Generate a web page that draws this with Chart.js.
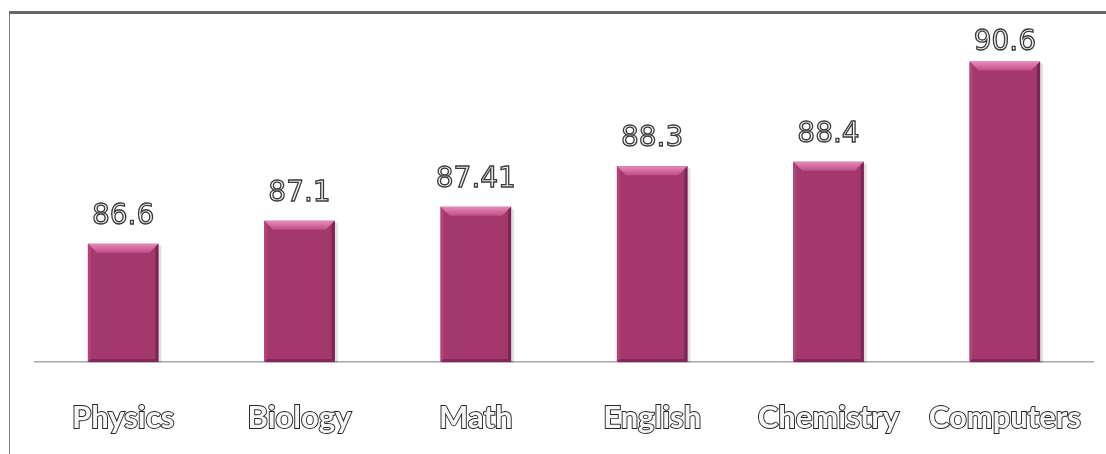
<!DOCTYPE html>
<html>
<head>
<meta charset="utf-8">
<script src="https://cdn.jsdelivr.net/npm/chart.js@4/dist/chart.umd.min.js"></script>
<style>
  html, body { margin: 0; padding: 0; background: #fff; }
  #wrap { position: relative; width: 1106px; height: 454px; }
  #frame {
    position: absolute; left: 9px; top: 11px; right: 0; bottom: 0;
    border-top: 3px solid #676767; border-left: 1px solid #7a7a7a;
    pointer-events: none;
  }
</style>
</head>
<body>
<div id="wrap">
  <canvas id="chart" width="1106" height="454"></canvas>
  <div id="frame"></div>
</div>
<script>
// ===== DATA =====
const subjects = ['Physics', 'Biology', 'Math', 'English', 'Chemistry', 'Computers'];
const scores = [86.6, 87.1, 87.41, 88.3, 88.4, 90.6];
const scoreLabels = ['86.6', '87.1', '87.41', '88.3', '88.4', '90.6'];
const axisMin = 84;
const axisMax = 91.6;

// ===== BEVEL + VALUE LABELS =====
const bevelPlugin = {
  id: 'bevel',
  afterDatasetsDraw(chart) {
    const ctx = chart.ctx;
    const meta = chart.getDatasetMeta(0);
    meta.data.forEach((bar, i) => {
      const p = bar.getProps(['x', 'y', 'base', 'width'], true);
      const l = p.x - p.width / 2, r = p.x + p.width / 2;
      const t = p.y, b = p.base;
      const bv = 9, sv = 3;

      ctx.save();
      // top bevel
      const g = ctx.createLinearGradient(0, t, 0, t + bv);
      g.addColorStop(0, '#e58bb8');
      g.addColorStop(1, '#c04d86');
      ctx.fillStyle = g;
      ctx.beginPath();
      ctx.moveTo(l, t); ctx.lineTo(r, t);
      ctx.lineTo(r - bv, t + bv); ctx.lineTo(l + bv, t + bv);
      ctx.closePath(); ctx.fill();
      // left edge
      ctx.fillStyle = '#b2427a';
      ctx.beginPath();
      ctx.moveTo(l, t); ctx.lineTo(l + sv, t + sv);
      ctx.lineTo(l + sv, b - sv); ctx.lineTo(l, b);
      ctx.closePath(); ctx.fill();
      // right edge
      ctx.fillStyle = '#7c2452';
      ctx.beginPath();
      ctx.moveTo(r, t); ctx.lineTo(r - sv, t + sv);
      ctx.lineTo(r - sv, b - sv); ctx.lineTo(r, b);
      ctx.closePath(); ctx.fill();
      // bottom edge
      ctx.fillStyle = '#84285a';
      ctx.beginPath();
      ctx.moveTo(l, b); ctx.lineTo(l + sv, b - sv);
      ctx.lineTo(r - sv, b - sv); ctx.lineTo(r, b);
      ctx.closePath(); ctx.fill();

      // value label (kept inside the frame like the original)
      const ly = Math.max(t - 20, 50);
      ctx.font = '28px "DejaVu Sans"';
      ctx.textAlign = 'center';
      ctx.textBaseline = 'alphabetic';
      ctx.lineWidth = 1.3;
      ctx.fillStyle = '#f4f4f4';
      ctx.strokeStyle = '#3a3a3a';
      ctx.fillText(scoreLabels[i], p.x, ly);
      ctx.strokeText(scoreLabels[i], p.x, ly);
      ctx.restore();
    });
  }
};

// ===== SHADOW UNDER BARS =====
const shadowPlugin = {
  id: 'barShadow',
  beforeDatasetsDraw(chart) {
    const ctx = chart.ctx;
    chart.getDatasetMeta(0).data.forEach(bar => {
      const p = bar.getProps(['x', 'y', 'base', 'width'], true);
      ctx.save();
      ctx.fillStyle = 'rgba(0,0,0,0.12)';
      ctx.fillRect(p.x - p.width / 2 + 2, p.y + 2, p.width + 1, p.base - p.y - 1);
      ctx.restore();
    });
  }
};

// ===== INIT CHART =====
const ctx = document.getElementById('chart').getContext('2d');
new Chart(ctx, {
  type: 'bar',
  data: {
    labels: subjects,
    datasets: [{
      data: scores,
      base: axisMin,
      backgroundColor: '#a3386d',
      borderWidth: 0,
      barPercentage: 0.4,
      categoryPercentage: 1.0
    }]
  },
  options: {
    responsive: false,
    animation: false,
    layout: { padding: { left: 35, right: 13, top: 16, bottom: 0 } },
    plugins: {
      legend: { display: false },
      tooltip: { enabled: false }
    },
    scales: {
      x: {
        grid: { display: false },
        border: { display: true, color: '#a8a8a8', width: 1.5 },
        afterFit(scale) {
          scale.height = 92;
          scale.paddingLeft = 0;
          scale.paddingRight = 0;
        },
        ticks: {
          padding: 29,
          color: '#f6f6f6',
          textStrokeColor: '#262626',
          textStrokeWidth: 1.9,
          maxRotation: 0,
          autoSkip: false,
          font: { family: 'Lato', weight: 'bold', size: 31 }
        }
      },
      y: {
        display: false,
        min: axisMin,
        max: axisMax
      }
    }
  },
  plugins: [shadowPlugin, bevelPlugin]
});
</script>
</body>
</html>
